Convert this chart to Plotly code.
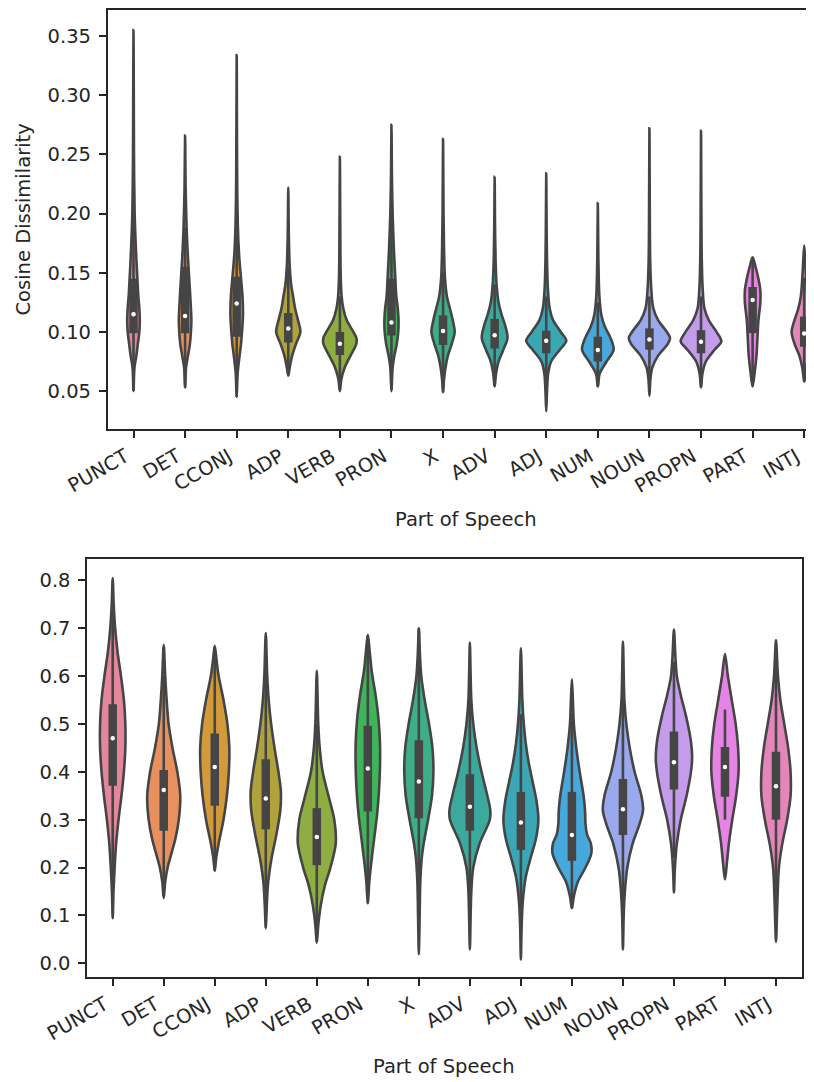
import plotly.graph_objects as go

# ---------------- data ----------------
categories = ["PUNCT", "DET", "CCONJ", "ADP", "VERB", "PRON", "X",
              "ADV", "ADJ", "NUM", "NOUN", "PROPN", "PART", "INTJ"]

palette = ["#e5879c", "#e8915f", "#d29a3a", "#b0a33e", "#8fae42", "#3fb55a",
           "#3dae87", "#3ca99d", "#3ba7b5", "#47a8dc", "#9aa8ec", "#c59cec",
           "#e684e5", "#e586bb"]

# Top panel: cosine dissimilarity
top_median = [0.115, 0.1135, 0.124, 0.103, 0.090, 0.108, 0.1007,
              0.0973, 0.0925, 0.0847, 0.0937, 0.0917, 0.127, 0.0987]
top_q1 = [0.099, 0.099, 0.096, 0.091, 0.0805, 0.097, 0.089,
          0.086, 0.082, 0.075, 0.085, 0.082, 0.099, 0.0875]
top_q3 = [0.145, 0.155, 0.1466, 0.116, 0.100, 0.145, 0.114,
          0.111, 0.101, 0.096, 0.103, 0.1015, 0.138, 0.113]
top_whisk_lo = [0.050, 0.053, 0.045, 0.063, 0.051, 0.051, 0.049,
                0.054, 0.054, 0.054, 0.050, 0.053, 0.054, 0.058]
top_whisk_hi = [0.199, 0.188, 0.183, 0.155, 0.130, 0.206, 0.150,
                0.140, 0.130, 0.125, 0.130, 0.130, 0.1627, 0.146]
top_levels = [
    [0.05, 0.07, 0.08, 0.09, 0.10, 0.11, 0.12, 0.13, 0.145, 0.17, 0.20, 0.25, 0.30, 0.355],
    [0.053, 0.07, 0.08, 0.09, 0.10, 0.11, 0.12, 0.135, 0.155, 0.17, 0.19, 0.22, 0.266],
    [0.045, 0.065, 0.08, 0.09, 0.10, 0.115, 0.13, 0.145, 0.165, 0.19, 0.23, 0.334],
    [0.063, 0.07, 0.08, 0.09, 0.10, 0.11, 0.12, 0.13, 0.14, 0.155, 0.18, 0.222],
    [0.05, 0.06, 0.07, 0.08, 0.09, 0.095, 0.10, 0.11, 0.12, 0.13, 0.15, 0.19, 0.248],
    [0.05, 0.07, 0.08, 0.09, 0.10, 0.11, 0.12, 0.13, 0.145, 0.17, 0.20, 0.23, 0.275],
    [0.049, 0.06, 0.07, 0.08, 0.09, 0.10, 0.11, 0.12, 0.13, 0.145, 0.17, 0.20, 0.263],
    [0.054, 0.065, 0.075, 0.085, 0.095, 0.105, 0.115, 0.125, 0.14, 0.16, 0.19, 0.231],
    [0.033, 0.05, 0.065, 0.075, 0.085, 0.0925, 0.10, 0.11, 0.12, 0.135, 0.16, 0.20, 0.234],
    [0.054, 0.065, 0.075, 0.085, 0.095, 0.105, 0.115, 0.13, 0.16, 0.209],
    [0.046, 0.06, 0.07, 0.08, 0.09, 0.095, 0.10, 0.11, 0.12, 0.135, 0.16, 0.20, 0.272],
    [0.053, 0.065, 0.075, 0.085, 0.092, 0.10, 0.11, 0.12, 0.135, 0.16, 0.20, 0.27],
    [0.054, 0.065, 0.08, 0.095, 0.11, 0.125, 0.135, 0.145, 0.155, 0.163],
    [0.058, 0.07, 0.08, 0.09, 0.10, 0.11, 0.12, 0.13, 0.145, 0.16, 0.173],
]
top_density = [
    [0, 1, 3, 4.5, 6, 6.5, 6, 5, 4, 2.5, 1.2, 0.5, 0.3, 0],
    [0, 1, 3, 5, 6, 6.5, 6, 5, 3.5, 2.5, 1.5, 0.6, 0],
    [0, 1, 3, 4.5, 5.5, 6.5, 6, 4.5, 2.5, 1.2, 0.5, 0],
    [0, 1.5, 4, 8, 12.5, 10, 7, 5, 3, 1.5, 0.6, 0],
    [0, 1.5, 5, 11, 17, 17, 14, 7, 3.5, 1.8, 0.8, 0.4, 0],
    [0, 1.2, 3, 5.5, 7, 7.3, 6.5, 5, 4, 2.5, 1.2, 0.5, 0],
    [0, 1, 2.5, 5, 9, 12, 10, 7, 4, 2, 1, 0.5, 0],
    [0, 1.5, 4, 9, 13.3, 11, 7, 4, 2, 1, 0.4, 0],
    [0, 0.8, 2, 5, 14, 20.7, 15, 7, 3.5, 1.8, 0.8, 0.3, 0],
    [0, 2, 9, 16.3, 13, 7, 3.5, 1.6, 0.6, 0],
    [0, 1, 3, 9, 19, 21.3, 18, 9, 4, 2, 0.8, 0.4, 0],
    [0, 1.5, 5, 14, 21, 16, 8, 3.5, 1.8, 0.8, 0.4, 0],
    [0, 2, 4, 5, 6, 8, 8, 6, 3, 0],
    [0, 2, 5, 10, 13, 10, 6, 3.5, 2, 1, 0],
]

# Bottom panel
bot_median = [0.47, 0.362, 0.41, 0.344, 0.264, 0.407, 0.38,
              0.327, 0.294, 0.268, 0.3216, 0.42, 0.41, 0.37]
bot_q1 = [0.371, 0.277, 0.329, 0.28, 0.205, 0.317, 0.303,
          0.277, 0.237, 0.214, 0.268, 0.363, 0.348, 0.30]
bot_q3 = [0.541, 0.404, 0.48, 0.426, 0.324, 0.496, 0.466,
          0.395, 0.358, 0.358, 0.385, 0.484, 0.452, 0.442]
bot_whisk_lo = [0.12, 0.14, 0.193, 0.075, 0.045, 0.125, 0.06,
                0.10, 0.06, 0.115, 0.10, 0.22, 0.30, 0.09]
bot_whisk_hi = [0.79, 0.60, 0.66, 0.64, 0.50, 0.685, 0.70,
                0.57, 0.52, 0.52, 0.56, 0.63, 0.53, 0.64]
bot_levels = [
    [0.094, 0.15, 0.20, 0.25, 0.30, 0.35, 0.40, 0.45, 0.50, 0.55, 0.60, 0.65, 0.70, 0.75, 0.804],
    [0.136, 0.17, 0.20, 0.23, 0.26, 0.30, 0.35, 0.40, 0.45, 0.50, 0.55, 0.60, 0.665],
    [0.193, 0.22, 0.25, 0.30, 0.35, 0.40, 0.45, 0.50, 0.55, 0.60, 0.63, 0.663],
    [0.073, 0.12, 0.17, 0.22, 0.27, 0.32, 0.36, 0.40, 0.45, 0.50, 0.55, 0.60, 0.69],
    [0.043, 0.08, 0.12, 0.16, 0.20, 0.25, 0.30, 0.35, 0.40, 0.45, 0.50, 0.611],
    [0.125, 0.17, 0.21, 0.26, 0.31, 0.36, 0.41, 0.46, 0.51, 0.56, 0.61, 0.65, 0.686],
    [0.019, 0.10, 0.17, 0.22, 0.25, 0.30, 0.35, 0.40, 0.45, 0.50, 0.55, 0.60, 0.65, 0.70],
    [0.029, 0.10, 0.15, 0.20, 0.25, 0.30, 0.32, 0.35, 0.40, 0.45, 0.50, 0.55, 0.60, 0.67],
    [0.008, 0.08, 0.13, 0.18, 0.22, 0.26, 0.30, 0.34, 0.38, 0.42, 0.46, 0.50, 0.55, 0.658],
    [0.115, 0.14, 0.17, 0.20, 0.23, 0.25, 0.27, 0.29, 0.32, 0.35, 0.40, 0.45, 0.50, 0.55, 0.593],
    [0.029, 0.10, 0.15, 0.20, 0.25, 0.29, 0.32, 0.35, 0.40, 0.45, 0.50, 0.55, 0.672],
    [0.148, 0.20, 0.25, 0.30, 0.35, 0.40, 0.43, 0.47, 0.52, 0.56, 0.60, 0.64, 0.697],
    [0.175, 0.21, 0.25, 0.30, 0.35, 0.40, 0.45, 0.50, 0.55, 0.60, 0.646],
    [0.045, 0.10, 0.15, 0.20, 0.25, 0.30, 0.35, 0.40, 0.45, 0.50, 0.55, 0.60, 0.675],
]
bot_density = [
    [0, 0.8, 2, 3.5, 6, 9, 11.5, 13, 13, 11.5, 8.5, 5, 2.5, 1, 0],
    [0, 1.5, 4, 8, 12, 15.5, 17, 14, 9, 5, 3, 1.5, 0],
    [0, 1.5, 4, 9, 12.5, 14.5, 15, 13, 9, 4, 2, 0],
    [0, 1, 2.5, 6, 11, 15, 15.5, 13, 9, 5.5, 3, 1.5, 0],
    [0, 1.5, 4, 8, 14, 19.5, 18, 12, 6, 3, 1.5, 0],
    [0, 1.5, 3.5, 6.5, 9.5, 11.5, 12.5, 12.5, 11, 8, 4, 2, 0],
    [0, 0.8, 1.5, 3, 5, 9.5, 13.5, 15, 14, 10.5, 6, 2.5, 1, 0],
    [0, 0.8, 1.5, 3.5, 10, 20.5, 21, 18, 12, 7, 3.5, 1.5, 0.8, 0],
    [0, 0.8, 2, 5, 10, 15.5, 18, 16, 12, 8, 5, 3, 1.5, 0],
    [0, 2, 6, 14, 20, 19.5, 15.5, 14, 13.5, 12, 8, 4.5, 2, 1, 0],
    [0, 0.8, 2, 4.5, 10, 17, 20.7, 19, 12, 7, 3.5, 1.5, 0],
    [0, 1, 3, 7, 13, 17.5, 18.7, 17, 12, 7, 3, 1.5, 0],
    [0, 2, 4, 7.5, 11.5, 14, 13.5, 11, 7, 3, 0],
    [0, 1, 1.8, 3, 6.5, 11.5, 15, 15, 12.5, 8.5, 4.5, 2, 0],
]

# ---------------- styling ----------------
# The page body has an 8px margin, so the figure is drawn 8px smaller and
# all target pixel positions (measured in the window) are shifted by 8.
OFF = 8
W, H = 814 - OFF, 1082 - OFF
GRAY = "#454545"
TEXT = "#262626"
FONT = "DejaVu Sans"
FS = 19.5
MAX_HALF_WIDTH = 0.4   # seaborn width=0.8

fig = go.Figure()


def add_panel(levels_list, dens_list, med, q1, q3, wlo, whi, xa, ya):
    peak = max(max(d) for d in dens_list)
    scale = MAX_HALF_WIDTH / peak
    for i, (lv, dn) in enumerate(zip(levels_list, dens_list)):
        right_x = [i + d * scale for d in dn]
        left_x = [i - d * scale for d in dn[-2::-1]]
        xs = right_x + left_x
        ys = list(lv) + list(lv[-2::-1])
        fig.add_trace(go.Scatter(
            x=xs, y=ys, mode="lines", fill="toself", fillcolor=palette[i],
            line=dict(color=GRAY, width=2.6, shape="spline", smoothing=0.9),
            xaxis=xa, yaxis=ya, hoverinfo="skip", showlegend=False))
    wx, wy, bx, by = [], [], [], []
    for i in range(len(med)):
        wx += [i, i, None]
        wy += [wlo[i], whi[i], None]
        bx += [i, i, None]
        by += [q1[i], q3[i], None]
    fig.add_trace(go.Scatter(x=wx, y=wy, mode="lines",
                             line=dict(color=GRAY, width=2.6),
                             xaxis=xa, yaxis=ya, hoverinfo="skip", showlegend=False))
    fig.add_trace(go.Scatter(x=bx, y=by, mode="lines",
                             line=dict(color=GRAY, width=8.5),
                             xaxis=xa, yaxis=ya, hoverinfo="skip", showlegend=False))
    fig.add_trace(go.Scatter(x=list(range(len(med))), y=med, mode="markers",
                             marker=dict(color="white", size=4.5, line=dict(width=0)),
                             xaxis=xa, yaxis=ya, hoverinfo="skip", showlegend=False))


add_panel(top_levels, top_density, top_median, top_q1, top_q3,
          top_whisk_lo, top_whisk_hi, "x", "y")
add_panel(bot_levels, bot_density, bot_median, bot_q1, bot_q3,
          bot_whisk_lo, bot_whisk_hi, "x2", "y2")

common_x = dict(
    tickmode="array", tickvals=list(range(len(categories))), ticktext=categories,
    tickangle=-30, ticks="outside", ticklen=7, tickwidth=1.5, tickcolor=TEXT,
    showline=True, linecolor=TEXT, linewidth=1.6, mirror=True,
    showgrid=False, zeroline=False, ticklabelstandoff=0, ticklabelshift=-8,
    automargin=False,
    tickfont=dict(family=FONT, size=FS, color=TEXT),
)
common_y = dict(
    ticks="outside", ticklen=7, tickwidth=1.5, tickcolor=TEXT,
    showline=True, linecolor=TEXT, linewidth=1.6,
    showgrid=False, zeroline=False, ticklabelstandoff=4, automargin=False,
    tickfont=dict(family=FONT, size=FS, color=TEXT),
)


def px_x(v):
    return (v - OFF) / W


def px_y(v):
    return 1 - (v - OFF) / H


# axes frames in window pixels (measured on the reference)
top_l, top_r, top_t, top_b = 107.7, 830.0, 10.0, 429.0
bot_l, bot_r, bot_t, bot_b = 87.2, 801.5, 559.0, 977.0

fig.update_layout(
    template="none",
    width=W, height=H,
    margin=dict(l=0, r=0, t=0, b=0, pad=0),
    paper_bgcolor="white", plot_bgcolor="white",
    font=dict(family=FONT, size=FS, color=TEXT),
    xaxis=dict(common_x, domain=[px_x(top_l), 1.0],
               range=[-0.5, -0.5 + 14 * (814 - top_l) / (top_r - top_l)], anchor="y"),
    yaxis=dict(common_y, domain=[px_y(top_b), px_y(top_t)],
               range=[0.018, 0.372], tick0=0.05, dtick=0.05, tickformat=".2f",
               mirror=False, anchor="x"),
    xaxis2=dict(common_x, domain=[px_x(bot_l), px_x(bot_r)],
                range=[-0.5, 13.5], anchor="y2"),
    yaxis2=dict(common_y, domain=[px_y(bot_b), px_y(bot_t)],
                range=[-0.0286, 0.8445], tick0=0, dtick=0.1, tickformat=".1f",
                mirror=True, anchor="x2"),
    annotations=[
        dict(text="Cosine Dissimilarity", x=px_x(23), y=px_y(219.5),
             xref="paper", yref="paper", textangle=-90, showarrow=False,
             xanchor="center", yanchor="middle",
             font=dict(family=FONT, size=FS, color=TEXT)),
        dict(text="Part of Speech", x=px_x(465.6), y=px_y(519),
             xref="paper", yref="paper", showarrow=False,
             xanchor="center", yanchor="middle",
             font=dict(family=FONT, size=FS, color=TEXT)),
        dict(text="Part of Speech", x=px_x(444.4), y=px_y(1066),
             xref="paper", yref="paper", showarrow=False,
             xanchor="center", yanchor="middle",
             font=dict(family=FONT, size=FS, color=TEXT)),
    ],
)

fig.write_html("out.html")
